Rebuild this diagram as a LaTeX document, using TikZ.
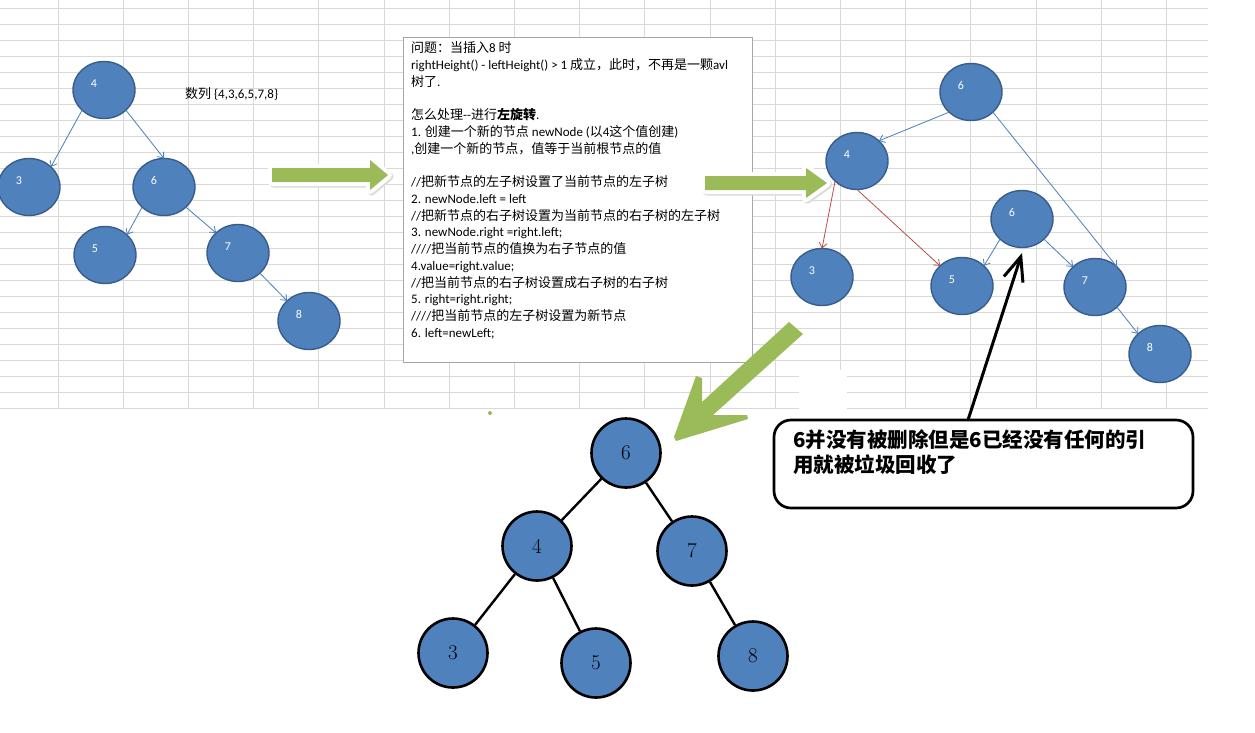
\documentclass[tikz,border=0pt]{standalone}
\usepackage{fontspec}
\newfontfamily\calf{Carlito}
\newfontfamily\zhf{Noto Sans CJK SC}
\newcommand\zh[1]{{\zhf #1}}
\usetikzlibrary{shapes.geometric,arrows.meta}
\definecolor{nodeblue}{HTML}{4F81BD}
\definecolor{nodeedge}{HTML}{385D8A}
\definecolor{linkblue}{HTML}{4A7EBB}
\definecolor{linkred}{HTML}{BE4B48}
\definecolor{arrowgreen}{HTML}{9BBB59}
\definecolor{gridgray}{HTML}{D9D9D9}
\definecolor{boxgray}{HTML}{A6A6A6}
\begin{document}
\begin{tikzpicture}[x=1pt,y=-1pt,
  tnode/.style={ellipse,fill=nodeblue,draw=nodeedge,line width=1.4pt,minimum width=62pt,minimum height=57pt,inner sep=0pt,outer sep=0pt},
  tlab/.style={text=white,font=\calf\fontsize{12}{14}\selectfont,inner sep=0pt,xshift=-10pt,yshift=6.5pt},
  blink/.style={draw=linkblue,line width=0.8pt,-{Straight Barb[length=5pt,width=8pt]}},
  rlink/.style={blink,draw=linkred},
  bnode/.style={circle,fill=nodeblue,draw=black,line width=2.6pt,minimum size=69pt,inner sep=0pt,font=\fontsize{21}{24}\selectfont},
  bedge/.style={draw=black,line width=2.4pt},
  boxtext/.style={anchor=base west,inner sep=0pt,font=\calf\fontsize{13}{16}\selectfont},
  gshadow/.style={fill=black!14,draw=black!14,line width=8pt,line join=round,shift={(1.5pt,-1.5pt)}},
  gglow/.style={draw=white,line width=8pt,line join=round},
  gfill/.style={fill=arrowgreen},
]
\useasboundingbox (0,0) rectangle (1255,732);
\fill[white] (0,0) rectangle (1255,732);
% spreadsheet grid
\foreach \k in {0,...,25} \draw[gridgray,line width=0.9pt] (0,{8+16*\k}) -- (1208,{8+16*\k});
\foreach \k in {0,...,17} \draw[gridgray,line width=0.9pt] ({58+65.2*\k},0) -- ({58+65.2*\k},408);
\fill[white] (799,370) rectangle (847,410);
\fill[arrowgreen] (490,413) circle (2pt);

% text box
\node[draw=boxgray,fill=white,line width=0.9pt,minimum width=349pt,minimum height=325pt,anchor=north west,inner sep=0pt,outer sep=0pt] (box) at (403,37) {};
\node[boxtext] (l1) at (411,52.5) {\zh{问题：当插入}8 \zh{时}};
\node[boxtext] (l2) at (411,69.3) {rightHeight() - leftHeight() > 1 \zh{成立，此时，不再是一颗}avl};
\node[boxtext] (l3) at (411,86.0) {\zh{树了}.};
\node[boxtext] (l5) at (411,119.5) {\zh{怎么处理}-{}-\zh{进行\textbf{左旋转}}.};
\node[boxtext] (l6) at (411,136.3) {1. \zh{创建一个新的节点} newNode (\zh{以}4\zh{这个值创建})};
\node[boxtext] (l7) at (411,153.1) {,\zh{创建一个新的节点，值等于当前根节点的值}};
\node[boxtext] (l9) at (411,186.6) {//\zh{把新节点的左子树设置了当前节点的左子树}};
\node[boxtext] (l10) at (411,203.3) {2. newNode.left = left};
\node[boxtext] (l11) at (411,220.1) {//\zh{把新节点的右子树设置为当前节点的右子树的左子树}};
\node[boxtext] (l12) at (411,236.9) {3. newNode.right =right.left;};
\node[boxtext] (l13) at (411,253.6) {////\zh{把当前节点的值换为右子节点的值}};
\node[boxtext] (l14) at (411,270.4) {4.value=right.value;};
\node[boxtext] (l15) at (411,287.1) {//\zh{把当前节点的右子树设置成右子树的右子树}};
\node[boxtext] (l16) at (411,303.9) {5. right=right.right;};
\node[boxtext] (l17) at (411,320.7) {////\zh{把当前节点的左子树设置为新节点}};
\node[boxtext] (l18) at (411,337.4) {6. left=newLeft;};

% sequence label
\node[boxtext] (seq) at (185,98.5) {\zh{数列} \{4,3,6,5,7,8\}};

% green arrows
\path[gshadow] (272,168) -- (370,168) -- (370,160) -- (388,175) -- (370,190) -- (370,182) -- (272,182) -- cycle;
\path[gglow] (272,168) -- (370,168) -- (370,160) -- (388,175) -- (370,190) -- (370,182) -- (272,182) -- cycle;
\path[gfill] (272,168) -- (370,168) -- (370,160) -- (388,175) -- (370,190) -- (370,182) -- (272,182) -- cycle;
\path[gshadow] (705,176) -- (806,176) -- (806,168) -- (827,183) -- (806,198) -- (806,190) -- (705,190) -- cycle;
\path[gglow] (705,176) -- (806,176) -- (806,168) -- (827,183) -- (806,198) -- (806,190) -- (705,190) -- cycle;
\path[gfill] (705,176) -- (806,176) -- (806,168) -- (827,183) -- (806,198) -- (806,190) -- (705,190) -- cycle;
\path[gfill] (789,322) -- (803,334) -- (713,415) -- (747,415) -- (748,419) -- (676,441) -- (674,437) -- (696,376) -- (702,378) -- (702,402) -- cycle;

% left tree
\node[tnode,label={[tlab]center:4}] (L4) at (104,90) {};
\node[tnode,label={[tlab]center:3}] (L3) at (29,187) {};
\node[tnode,label={[tlab]center:6}] (L6) at (164,187) {};
\node[tnode,label={[tlab]center:5}] (L5) at (105,255) {};
\node[tnode,label={[tlab]center:7}] (L7) at (238,253) {};
\node[tnode,label={[tlab]center:8}] (L8) at (309,321) {};
\draw[blink] (L4.south west) -- (L3.north east);
\draw[blink] (L4.south east) -- (L6.north);
\draw[blink] (L6.south west) -- (L5.north east);
\draw[blink] (L6.south east) -- (L7.north west);
\draw[blink] (L7.south east) -- (L8.north west);

% right tree
\node[tnode,label={[tlab]center:6}] (R6) at (971,92) {};
\node[tnode,label={[tlab]center:4}] (R4) at (857,161) {};
\node[tnode,label={[tlab]center:3}] (R3) at (822,277) {};
\node[tnode,label={[tlab]center:5}] (R5) at (962,286) {};
\node[tnode,label={[tlab]center:6}] (O6) at (1022,219) {};
\node[tnode,label={[tlab]center:7}] (R7) at (1095,287) {};
\node[tnode,label={[tlab]center:8}] (R8) at (1160,354) {};
\draw[blink] (R6.south west) -- (R4.north east);
\draw[blink] (R6.south east) -- (R7.north east);
\draw[rlink] (R4.south west) -- (R3.north);
\draw[rlink] (R4.south) -- (R5.north west);
\draw[blink] (O6.south west) -- (R5.north east);
\draw[blink] (O6.south east) -- (R7.north west);
\draw[blink] (R7.south east) -- (R8.north west);

% bottom tree
\node[bnode] (B6) at (626,453) {6};
\node[bnode] (B4) at (537,546) {4};
\node[bnode] (B7) at (692,551) {7};
\node[bnode] (B3) at (453,653) {3};
\node[bnode] (B5) at (596,663) {5};
\node[bnode] (B8) at (753,656) {8};
\draw[bedge] (B6) -- (B4);
\draw[bedge] (B6) -- (B7);
\draw[bedge] (B4) -- (B3);
\draw[bedge] (B4) -- (B5);
\draw[bedge] (B7) -- (B8);

% callout
\node[draw=black,fill=white,line width=2.7pt,rounded corners=17pt,minimum width=419pt,minimum height=88pt,anchor=north west,inner sep=0pt,outer sep=0pt] (callout) at (774,420) {};
\node[anchor=base west,inner sep=0pt,font=\zhf\bfseries\fontsize{20.5}{25}\selectfont] (ct1) at (793,447.8) {6并没有被删除但是6已经没有任何的引};
\node[anchor=base west,inner sep=0pt,font=\zhf\bfseries\fontsize{20.5}{25}\selectfont] (ct2) at (793,472.8) {用就被垃圾回收了};
\draw[line width=3pt,-{Straight Barb[length=24pt,width=20pt]}] ([xshift=-15.5pt]callout.north) -- ([yshift=-5.5pt]O6.south);
\end{tikzpicture}
\end{document}
